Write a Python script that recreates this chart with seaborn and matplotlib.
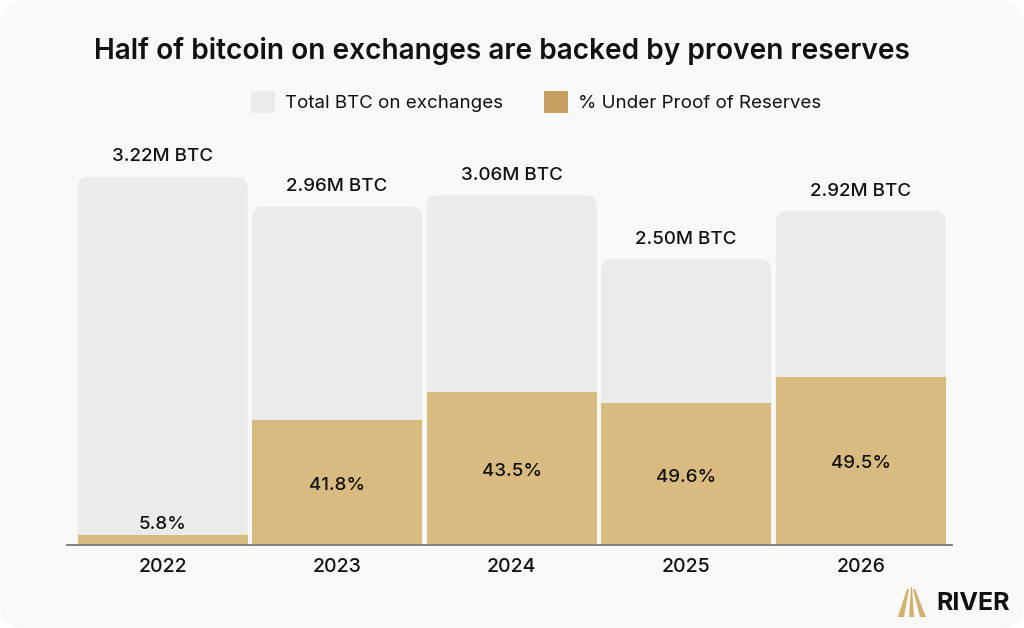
import numpy as np
import matplotlib
matplotlib.use("Agg")
import matplotlib.pyplot as plt
import seaborn as sns
from matplotlib.patches import FancyBboxPatch, Patch, Polygon

# Data
years = ["2022", "2023", "2024", "2025", "2026"]
total_btc = [3.22, 2.96, 3.06, 2.50, 2.92]          # M BTC on exchanges
proven_btc = [0.085, 1.09, 1.34, 1.24, 1.47]        # M BTC
proven_pct = [5.8, 41.8, 43.5, 49.6, 49.5]          # labels

gray = "#ebebeb"
gold = "#d9bb82"
gold_legend = "#c6a063"
bg = "#f9f9f9"

sns.set_theme(style="white")
plt.rcParams["font.family"] = ["Inter", "DejaVu Sans"]

W, H = 1024, 628
fig = plt.figure(figsize=(W / 100, H / 100), dpi=100, facecolor="white")

# rounded card background
card = FancyBboxPatch((0, 0), 1, 1, boxstyle="round,pad=0,rounding_size=0.025",
                      mutation_aspect=W / H, transform=fig.transFigure,
                      facecolor=bg, edgecolor="none", zorder=-10)
fig.patches.append(card)

ax = fig.add_axes([67 / W, 1 - 545 / H, 885 / W, 405 / H])
ax.set_facecolor("none")

bar_w = 0.974
sns.barplot(x=years, y=total_btc, color=gray, saturation=1, width=bar_w,
            errorbar=None, linewidth=0, ax=ax)
n = len(years)
gray_bars = list(ax.patches[:n])
sns.barplot(x=years, y=proven_btc, color=gold, saturation=1, width=bar_w,
            errorbar=None, linewidth=0, ax=ax)

ax.set_xlim(-0.548, 4.523)
ax.set_ylim(0, 3.543)

# px -> data scale
px_x = (4.523 + 0.548) / 885
px_y = 3.543 / 405
rx, ry = 11 * px_x, 11 * px_y

# rounded tops on the gray bars
for p in gray_bars:
    x0, w, h = p.get_x(), p.get_width(), p.get_height()
    p.set_visible(False)
    rb = FancyBboxPatch((x0, -ry), w, h + ry,
                        boxstyle=f"round,pad=0,rounding_size={rx}",
                        mutation_aspect=ry / rx, facecolor=gray,
                        edgecolor="none", linewidth=0, zorder=0.5)
    ax.add_patch(rb)

# labels
for i in range(n):
    ax.annotate(f"{total_btc[i]:.2f}M BTC", (i, total_btc[i]), xytext=(0, 14.5),
                textcoords="offset points", ha="center", va="center",
                fontsize=13.5, fontweight="medium", color="#111111")
    if proven_btc[i] / px_y < 30:
        ax.annotate(f"{proven_pct[i]:.1f}%", (i, proven_btc[i]), xytext=(0, 8),
                    textcoords="offset points", ha="center", va="center",
                    fontsize=13.5, fontweight="medium", color="#111111")
    else:
        ax.text(i, proven_btc[i] / 2 - 3 * px_y, f"{proven_pct[i]:.1f}%",
                ha="center", va="center", fontsize=13.5, fontweight="medium",
                color="#111111")

sns.despine(ax=ax, left=True)
ax.spines["bottom"].set_color("#777777")
ax.spines["bottom"].set_linewidth(1.3)
ax.set_yticks([])
ax.set_xlabel("")
ax.set_ylabel("")
ax.tick_params(axis="x", length=0, pad=9, labelsize=14, colors="#111111")
for t in ax.get_xticklabels():
    t.set_fontweight("medium")

fig.text(502 / W, 1 - 51 / H, "Half of bitcoin on exchanges are backed by proven reserves",
         ha="center", va="center", fontsize=20.2, fontweight="semibold", color="#111111")

handles = [Patch(facecolor=gray, edgecolor="none", label="Total BTC on exchanges"),
           Patch(facecolor=gold_legend, edgecolor="none", label="% Under Proof of Reserves")]
fig.legend(handles=handles, loc="center", bbox_to_anchor=(536 / W, 1 - 102 / H),
           ncol=2, frameon=False, fontsize=13.5, handlelength=1.3, handleheight=1.45,
           handletextpad=0.5, columnspacing=2.2, labelcolor="#111111")

# RIVER mark
def px(pts):
    return [(x / W, 1 - y / H) for x, y in pts]

for pts in ([(898, 617), (904, 617), (909, 589), (907, 589)],
            [(909, 617), (914, 617), (912, 587), (911, 587)],
            [(920, 617), (926, 617), (915, 589), (913, 589)]):
    fig.patches.append(Polygon(px(pts), closed=True, transform=fig.transFigure,
                               facecolor="#d4b06e", edgecolor="none"))
fig.text(936 / W, 1 - 603 / H, "RIVER", ha="left", va="center", fontsize=18,
         fontweight="bold", color="#111111")

fig.savefig("out.png", dpi=100, facecolor="white")
